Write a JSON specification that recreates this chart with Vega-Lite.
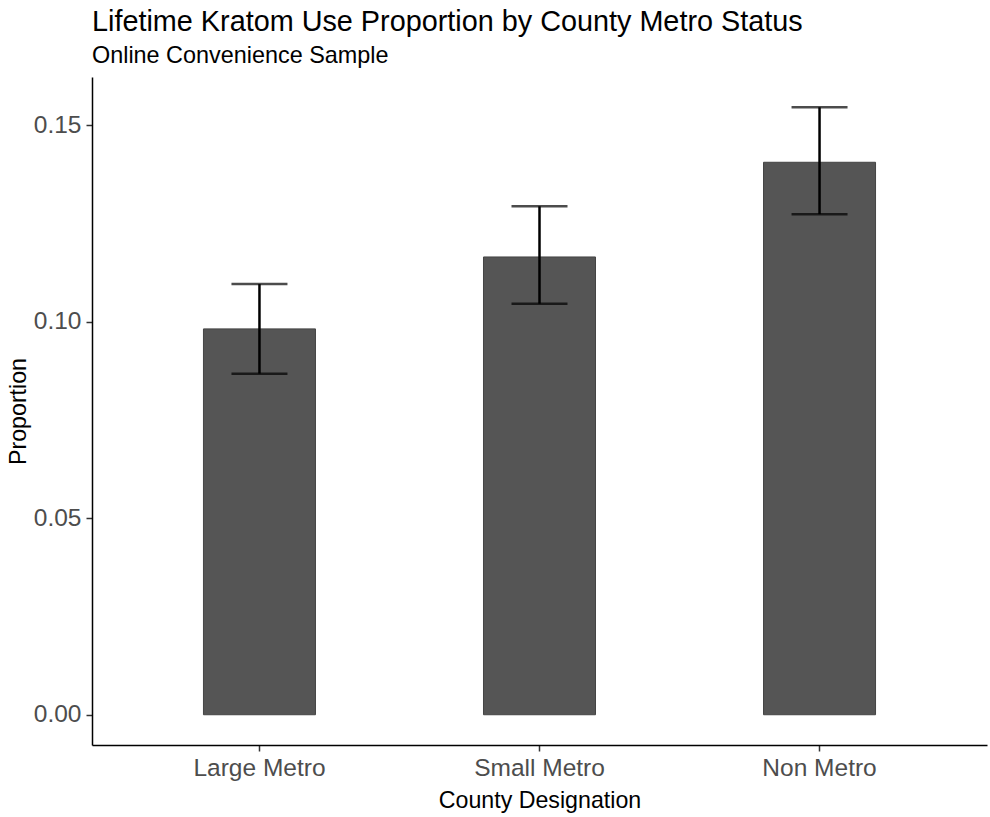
{
  "$schema": "https://vega.github.io/schema/vega-lite/v6.json",
  "width": 895,
  "height": 668,
  "autosize": {"type": "none"},
  "padding": {"left": 92, "top": 77, "right": 3, "bottom": 72},
  "background": "#ffffff",
  "title": {
    "text": "Lifetime Kratom Use Proportion by County Metro Status",
    "subtitle": "Online Convenience Sample",
    "anchor": "start",
    "frame": "group",
    "font": "Liberation Sans",
    "subtitleFont": "Liberation Sans",
    "fontSize": 28.8,
    "subtitleFontSize": 23.4,
    "fontWeight": "normal",
    "color": "#000000",
    "subtitleColor": "#000000",
    "subtitlePadding": 8,
    "offset": 10
  },
  "config": {
    "view": {"stroke": null},
    "font": "Liberation Sans",
    "axis": {
      "grid": false,
      "domainColor": "#000000",
      "domainWidth": 1.5,
      "tickColor": "#333333",
      "tickWidth": 1.5,
      "tickSize": 6,
      "labelFont": "Liberation Sans",
      "labelFontSize": 24.5,
      "labelColor": "#4d4d4d",
      "titleFont": "Liberation Sans",
      "titleFontSize": 23.2,
      "titleFontWeight": "normal",
      "titleColor": "#000000"
    }
  },
  "data": {
    "values": [
      {"county": "Large Metro", "prop": 0.0982, "lo": 0.0868, "hi": 0.1096},
      {"county": "Small Metro", "prop": 0.1165, "lo": 0.1046, "hi": 0.1294},
      {"county": "Non Metro", "prop": 0.1406, "lo": 0.1274, "hi": 0.1546}
    ]
  },
  "encoding": {
    "x": {
      "field": "county",
      "type": "nominal",
      "sort": ["Large Metro", "Small Metro", "Non Metro"],
      "scale": {"paddingInner": 0.6, "paddingOuter": 0.398},
      "axis": {"title": "County Designation", "labelAngle": 0, "labelPadding": 5, "titlePadding": 10}
    }
  },
  "layer": [
    {
      "mark": {"type": "bar", "color": "#555555", "stroke": "#444444", "strokeWidth": 1},
      "encoding": {
        "y": {
          "field": "prop",
          "type": "quantitative",
          "scale": {"domain": [-0.0077, 0.1623], "nice": false, "zero": false},
          "axis": {"title": "Proportion", "values": [0, 0.05, 0.1, 0.15], "format": ".2f", "labelPadding": 5, "titlePadding": 3}
        }
      }
    },
    {
      "mark": {"type": "rule", "color": "#000000", "strokeWidth": 2.5},
      "encoding": {
        "y": {"field": "lo", "type": "quantitative"},
        "y2": {"field": "hi"}
      }
    },
    {
      "mark": {"type": "tick", "color": "#000000", "size": 56, "thickness": 2.5, "orient": "horizontal"},
      "encoding": {
        "y": {"field": "lo", "type": "quantitative"}
      }
    },
    {
      "mark": {"type": "tick", "color": "#000000", "size": 56, "thickness": 2.5, "orient": "horizontal"},
      "encoding": {
        "y": {"field": "hi", "type": "quantitative"}
      }
    }
  ]
}
